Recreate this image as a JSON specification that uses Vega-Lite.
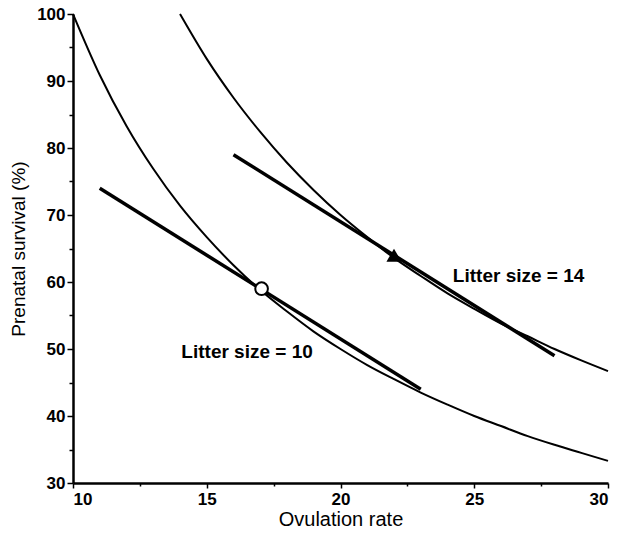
{
  "$schema": "https://vega.github.io/schema/vega-lite/v6.json",
  "autosize": {"type": "none"},
  "width": 535,
  "height": 469,
  "padding": {"left": 73, "top": 14, "right": 12, "bottom": 50},
  "background": "white",
  "config": {
    "view": {"stroke": null},
    "font": "Liberation Sans"
  },
  "datasets": {
    "curves": [
      {"litter": 10, "x": 10, "y": 100}, {"litter": 10, "x": 11, "y": 90.9}, {"litter": 10, "x": 12, "y": 83.3},
      {"litter": 10, "x": 13, "y": 76.9}, {"litter": 10, "x": 14, "y": 71.4}, {"litter": 10, "x": 15, "y": 66.7},
      {"litter": 10, "x": 16, "y": 62.5}, {"litter": 10, "x": 17, "y": 58.8}, {"litter": 10, "x": 18, "y": 55.6},
      {"litter": 10, "x": 19, "y": 52.6}, {"litter": 10, "x": 20, "y": 50.0}, {"litter": 10, "x": 21, "y": 47.6},
      {"litter": 10, "x": 22, "y": 45.5}, {"litter": 10, "x": 23, "y": 43.5}, {"litter": 10, "x": 24, "y": 41.7},
      {"litter": 10, "x": 25, "y": 40.0}, {"litter": 10, "x": 26, "y": 38.5}, {"litter": 10, "x": 27, "y": 37.0},
      {"litter": 10, "x": 28, "y": 35.7}, {"litter": 10, "x": 29, "y": 34.5}, {"litter": 10, "x": 30, "y": 33.3},
      {"litter": 14, "x": 14, "y": 100}, {"litter": 14, "x": 15, "y": 93.3}, {"litter": 14, "x": 16, "y": 87.5},
      {"litter": 14, "x": 17, "y": 82.4}, {"litter": 14, "x": 18, "y": 77.8}, {"litter": 14, "x": 19, "y": 73.7},
      {"litter": 14, "x": 20, "y": 70.0}, {"litter": 14, "x": 21, "y": 66.7}, {"litter": 14, "x": 22, "y": 63.6},
      {"litter": 14, "x": 23, "y": 60.9}, {"litter": 14, "x": 24, "y": 58.3}, {"litter": 14, "x": 25, "y": 56.0},
      {"litter": 14, "x": 26, "y": 53.8}, {"litter": 14, "x": 27, "y": 51.9}, {"litter": 14, "x": 28, "y": 50.0},
      {"litter": 14, "x": 29, "y": 48.3}, {"litter": 14, "x": 30, "y": 46.7}
    ],
    "tangents": [
      {"seg": "A", "x": 11, "y": 74}, {"seg": "A", "x": 23, "y": 44},
      {"seg": "B", "x": 16, "y": 79}, {"seg": "B", "x": 28, "y": 49}
    ],
    "circle": [{"x": 17.05, "y": 59}],
    "triangle": [{"x": 22, "y": 64}],
    "labels": [
      {"x": 14.05, "y": 49.6, "text": "Litter size = 10"},
      {"x": 24.2, "y": 60.9, "text": "Litter size = 14"}
    ]
  },
  "encoding": {
    "x": {
      "field": "x", "type": "quantitative",
      "scale": {"domain": [10, 30], "nice": false, "zero": false},
      "axis": {
        "title": "Ovulation rate",
        "values": [10, 12.5, 15, 17.5, 20, 22.5, 25, 27.5, 30],
        "labelExpr": "datum.value % 5 === 0 ? datum.label : ''",
        "grid": false,
        "domainColor": "black", "domainWidth": 2.5,
        "tickColor": "black", "tickWidth": 1.5,
        "tickSize": {"condition": {"test": "datum.value % 5 === 0", "value": 5}, "value": 3},
        "labelFontSize": 17, "labelColor": "black", "labelFontWeight": "bold",
        "labelPadding": 3,
        "titleFontSize": 20, "titleColor": "black", "titleFontWeight": "normal",
        "titlePadding": 2
      }
    },
    "y": {
      "field": "y", "type": "quantitative",
      "scale": {"domain": [30, 100], "nice": false, "zero": false},
      "axis": {
        "title": "Prenatal survival (%)",
        "values": [30, 35, 40, 45, 50, 55, 60, 65, 70, 75, 80, 85, 90, 95, 100],
        "labelExpr": "datum.value % 10 === 0 ? datum.label : ''",
        "grid": false,
        "domainColor": "black", "domainWidth": 2.5,
        "tickColor": "black", "tickWidth": 1.5,
        "tickSize": {"condition": {"test": "datum.value % 10 === 0", "value": 6}, "value": 4},
        "labelFontSize": 17, "labelColor": "black", "labelFontWeight": "bold",
        "labelPadding": 2,
        "titleFontSize": 19, "titleColor": "black", "titleFontWeight": "normal",
        "titlePadding": 8
      }
    }
  },
  "layer": [
    {
      "data": {"name": "curves"},
      "mark": {"type": "line", "color": "black", "strokeWidth": 2, "interpolate": "monotone"},
      "encoding": {"detail": {"field": "litter", "type": "nominal"}}
    },
    {
      "data": {"name": "tangents"},
      "mark": {"type": "line", "color": "black", "strokeWidth": 3.5},
      "encoding": {"detail": {"field": "seg", "type": "nominal"}}
    },
    {
      "data": {"name": "circle"},
      "mark": {"type": "point", "shape": "circle", "filled": true, "fill": "white", "stroke": "black", "strokeWidth": 2, "size": 160, "opacity": 1}
    },
    {
      "data": {"name": "triangle"},
      "mark": {"type": "point", "shape": "triangle-up", "filled": true, "color": "black", "size": 230, "opacity": 1}
    },
    {
      "data": {"name": "labels"},
      "mark": {"type": "text", "align": "left", "baseline": "middle", "fontSize": 19, "fontWeight": "bold", "color": "black"},
      "encoding": {"text": {"field": "text", "type": "nominal"}}
    }
  ]
}
